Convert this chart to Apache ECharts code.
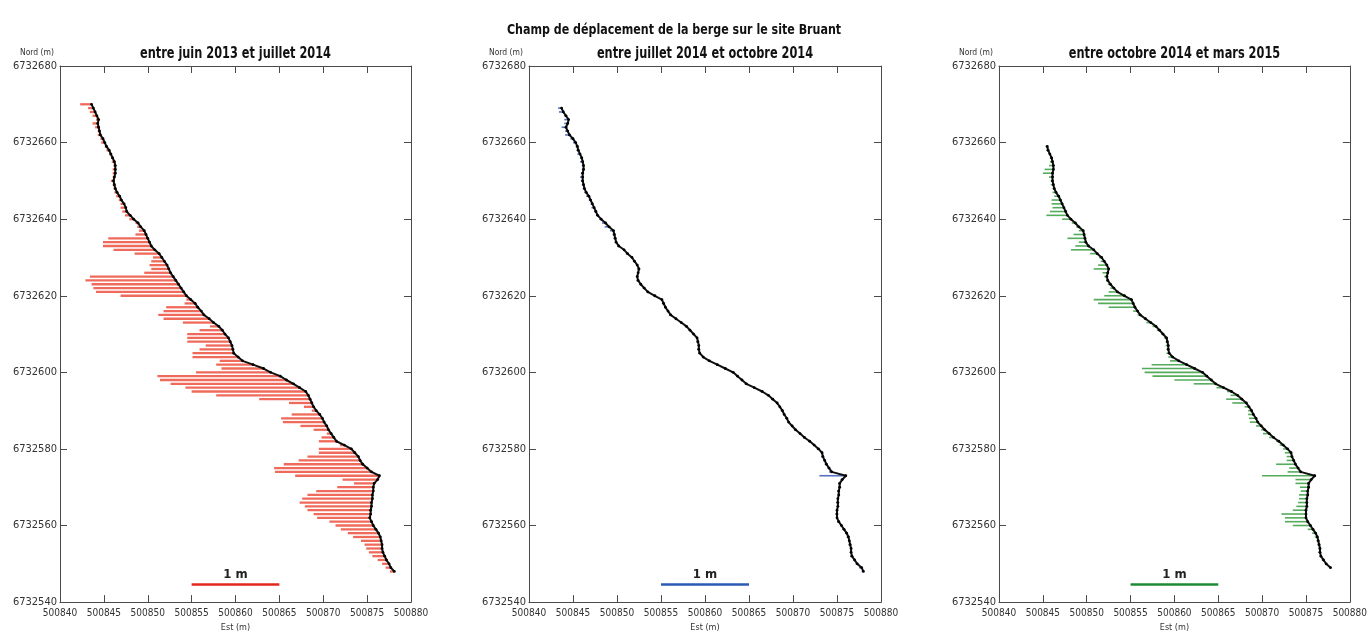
<!DOCTYPE html>
<html>
<head>
<meta charset="utf-8">
<script src="https://cdn.jsdelivr.net/npm/echarts@6/dist/echarts.min.js"></script>
<style>
  html, body { margin: 0; padding: 0; background: #fff; }
  #berge { width: 1370px; height: 637px; }
</style>
</head>
<body>
<div id="berge"></div>
<script>
// profils horizontaux tous les 1 m (nord)
const northing = [
  6732670, 6732669, 6732668, 6732667, 6732666, 6732665, 6732664, 6732663, 6732662, 6732661,
  6732660, 6732659, 6732658, 6732657, 6732656, 6732655, 6732654, 6732653, 6732652, 6732651,
  6732650, 6732649, 6732648, 6732647, 6732646, 6732645, 6732644, 6732643, 6732642, 6732641,
  6732640, 6732639, 6732638, 6732637, 6732636, 6732635, 6732634, 6732633, 6732632, 6732631,
  6732630, 6732629, 6732628, 6732627, 6732626, 6732625, 6732624, 6732623, 6732622, 6732621,
  6732620, 6732619, 6732618, 6732617, 6732616, 6732615, 6732614, 6732613, 6732612, 6732611,
  6732610, 6732609, 6732608, 6732607, 6732606, 6732605, 6732604, 6732603, 6732602, 6732601,
  6732600, 6732599, 6732598, 6732597, 6732596, 6732595, 6732594, 6732593, 6732592, 6732591,
  6732590, 6732589, 6732588, 6732587, 6732586, 6732585, 6732584, 6732583, 6732582, 6732581,
  6732580, 6732579, 6732578, 6732577, 6732576, 6732575, 6732574, 6732573, 6732572, 6732571,
  6732570, 6732569, 6732568, 6732567, 6732566, 6732565, 6732564, 6732563, 6732562, 6732561,
  6732560, 6732559, 6732558, 6732557, 6732556, 6732555, 6732554, 6732553, 6732552, 6732551,
  6732550, 6732549, 6732548
]

// position de la berge (est) en juin 2013
const bankEast1 = [
  500843.6, 500843.8, 500844.0, 500844.2, 500844.4, 500844.3, 500844.4, 500844.5, 500844.6, 500844.9,
  500845.1, 500845.3, 500845.6, 500845.8, 500846.0, 500846.2, 500846.3, 500846.3, 500846.3, 500846.2,
  500846.1, 500846.2, 500846.3, 500846.5, 500846.8, 500847.0, 500847.3, 500847.5, 500847.6, 500848.0,
  500848.4, 500848.9, 500849.2, 500849.6, 500849.8, 500850.0, 500850.2, 500850.4, 500850.8, 500851.3,
  500851.6, 500851.9, 500852.2, 500852.4, 500852.6, 500852.9, 500853.2, 500853.5, 500853.8, 500854.1,
  500854.4, 500854.9, 500855.4, 500855.7, 500856.1, 500856.4, 500857.0, 500857.5, 500858.1, 500858.5,
  500858.8, 500859.2, 500859.4, 500859.6, 500859.7, 500859.8, 500860.3, 500860.8, 500862.0, 500863.2,
  500864.0, 500865.1, 500865.8, 500866.6, 500867.3, 500868.0, 500868.3, 500868.5, 500868.7, 500868.9,
  500869.2, 500869.6, 500869.9, 500870.1, 500870.4, 500870.6, 500870.9, 500871.2, 500871.5, 500872.4,
  500873.2, 500873.6, 500874.0, 500874.2, 500874.5, 500875.0, 500875.5, 500876.4, 500876.2, 500875.8,
  500875.7, 500875.7, 500875.6, 500875.6, 500875.5, 500875.5, 500875.4, 500875.4, 500875.3, 500875.5,
  500875.7, 500876.0, 500876.3, 500876.5, 500876.6, 500876.7, 500876.7, 500876.8, 500877.0, 500877.2,
  500877.5, 500877.7, 500878.1
]

// position de la berge (est) en juillet 2014 / octobre 2014
const bankEast2 = [
  null, 500843.7, 500843.9, 500844.2, 500844.5, 500844.4, 500844.2, 500844.4, 500844.6, 500845.0,
  500845.3, 500845.5, 500845.6, 500845.8, 500846.0, 500846.1, 500846.2, 500846.2, 500846.1, 500846.1,
  500846.1, 500846.2, 500846.3, 500846.5, 500846.8, 500847.0, 500847.2, 500847.4, 500847.6, 500847.8,
  500848.2, 500848.7, 500849.1, 500849.6, 500849.7, 500849.8, 500849.9, 500850.2, 500850.8, 500851.2,
  500851.7, 500852.0, 500852.3, 500852.5, 500852.4, 500852.3, 500852.4, 500852.7, 500853.1, 500853.5,
  500854.3, 500855.1, 500855.3, 500855.5, 500855.8, 500856.1, 500856.7, 500857.3, 500857.9, 500858.3,
  500858.7, 500859.1, 500859.2, 500859.3, 500859.3, 500859.4, 500859.8, 500860.5, 500861.4, 500862.3,
  500863.2, 500863.7, 500864.2, 500864.7, 500865.6, 500866.5, 500867.2, 500867.7, 500868.2, 500868.5,
  500868.8, 500869.0, 500869.3, 500869.5, 500869.9, 500870.3, 500870.8, 500871.3, 500871.9, 500872.4,
  500872.9, 500873.3, 500873.4, 500873.6, 500873.8, 500874.1, 500874.4, 500876.0, 500875.6, 500875.3,
  500875.3, 500875.2, 500875.2, 500875.1, 500875.1, 500875.1, 500875.0, 500875.0, 500875.0, 500875.2,
  500875.5, 500875.8, 500876.1, 500876.3, 500876.4, 500876.5, 500876.6, 500876.6, 500876.7, 500877.0,
  500877.3, 500877.8, 500878.0
]

// recul de la berge (m) vers l'ouest, par periode
const disp1 = [
  0.13, 0.06, 0.06, 0.05, 0.03, 0.06, 0.04, 0.02, 0.03, 0.03,
  0.04, 0.02, 0.03, 0.02, 0.02, 0.03, 0.02, 0.03, 0.03, 0.02,
  0.03, 0.02, 0.02, 0.03, 0.04, 0.03, 0.04, 0.06, 0.05, 0.06,
  0.05, 0.03, 0.04, 0.06, 0.12, 0.45, 0.53, 0.55, 0.47, 0.28,
  0.1, 0.15, 0.2, 0.2, 0.3, 0.95, 1.03, 0.99, 1.0, 1.0,
  0.75, 0.05, 0.12, 0.36, 0.43, 0.52, 0.52, 0.35, 0.1, 0.26,
  0.43, 0.47, 0.49, 0.3, 0.38, 0.47, 0.52, 0.26, 0.42, 0.48,
  0.85, 1.4, 1.44, 1.4, 1.3, 1.3, 1.05, 0.58, 0.26, 0.11,
  0.05, 0.32, 0.47, 0.47, 0.3, 0.17, 0.05, 0.14, 0.2, 0.05,
  0.37, 0.41, 0.58, 0.7, 0.9, 1.06, 1.1, 0.96, 0.4, 0.23,
  0.41, 0.65, 0.74, 0.8, 0.82, 0.76, 0.72, 0.65, 0.6, 0.48,
  0.43, 0.4, 0.35, 0.31, 0.23, 0.2, 0.18, 0.16, 0.14, 0.1,
  0.08, 0.06, 0.05
]
const disp2 = [
  null, 0.04, 0.05, 0.02, 0.05, 0.04, 0.05, 0.03, 0.05, 0.03,
  0.03, 0.02, 0.02, 0.03, 0.02, 0.03, 0.02, 0.02, 0.02, 0.03,
  0.02, 0.02, 0.02, 0.02, 0.03, 0.02, 0.02, 0.03, 0.02, 0.02,
  0.02, 0.04, 0.05, 0.04, 0.02, 0.02, 0.01, 0.02, 0.01, 0.02,
  0.01, 0.02, 0.01, 0.02, 0.01, 0.01, 0.02, 0.01, 0.02, 0.01,
  0.02, 0.01, 0.02, 0.01, 0.01, 0.02, 0.01, 0.01, 0.02, 0.01,
  0.01, 0.01, 0.02, 0.01, 0.02, 0.01, 0.01, 0.02, 0.01, 0.01,
  0.02, 0.01, 0.01, 0.02, 0.01, 0.02, 0.01, 0.02, 0.01, 0.01,
  0.02, 0.01, 0.02, 0.01, 0.01, 0.02, 0.01, 0.01, 0.02, 0.01,
  0.02, 0.01, 0.02, 0.01, 0.02, 0.02, 0.03, 0.3, 0.02, 0.01,
  0.01, 0.02, 0.01, 0.01, 0.02, 0.01, 0.01, 0.02, 0.01, 0.02,
  0.01, 0.02, 0.01, 0.02, 0.01, 0.02, 0.01, 0.01, 0.02, 0.01,
  0.02, 0.03, 0.02
]
const disp3 = [
  null, null, null, null, null, null, null, null, null, null,
  null, 0.02, 0.02, 0.01, 0.02, 0.03, 0.05, 0.1, 0.11, 0.04,
  0.02, 0.03, 0.02, 0.04, 0.05, 0.1, 0.12, 0.13, 0.18, 0.24,
  0.1, 0.04, 0.03, 0.05, 0.12, 0.2, 0.08, 0.15, 0.26, 0.08,
  0.03, 0.04, 0.1, 0.17, 0.06, 0.03, 0.02, 0.03, 0.04, 0.1,
  0.23, 0.43, 0.4, 0.3, 0.05, 0.03, 0.02, 0.05, 0.04, 0.03,
  0.02, 0.03, 0.02, 0.03, 0.02, 0.03, 0.05, 0.1, 0.4, 0.6,
  0.66, 0.62, 0.42, 0.25, 0.08, 0.05, 0.08, 0.18, 0.16, 0.05,
  0.04, 0.06, 0.08, 0.09, 0.06, 0.04, 0.07, 0.05, 0.03, 0.04,
  0.05, 0.07, 0.06, 0.08, 0.22, 0.1, 0.15, 0.6, 0.18, 0.15,
  0.1, 0.08, 0.1, 0.09, 0.1, 0.12, 0.15, 0.28, 0.24, 0.26,
  0.2, 0.06, 0.04, 0.03, 0.02, 0.02, 0.02, 0.02, 0.01, 0.02,
  0.01, 0.01, null
]

const mainTitle = 'Champ de déplacement de la berge sur le site Bruant'
const panelTitles = ['entre juin 2013 et juillet 2014', 'entre juillet 2014 et octobre 2014', 'entre octobre 2014 et mars 2015']
const vecColors = ['#f06a5b', '#5670c4', '#55ab5c']
const barColors = ['#e5281f', '#2a5ab5', '#1f8a36']
const scaleBarEast = [500855, 500865]
const scaleBarNorth = 6732544.6
const SCALE = 10 // 1 m de deplacement = 10 m sur l'axe

const FONT = "'DejaVu Sans Condensed', 'Liberation Sans Narrow', sans-serif"
const gridLeft = [60, 529, 999]
const gridWidth = [351, 352, 351]

const panels = [
  { bank: bankEast1, disp: disp1 },
  { bank: bankEast2, disp: disp2 },
  { bank: bankEast2, disp: disp3 }
]

function rowsOf(p) {
  let out = []
  northing.forEach((n, i) => {
    if (p.bank[i] != null && p.disp[i] != null) out.push([p.bank[i], n, p.disp[i]])
  })
  return out
}

let chart = echarts.init(document.getElementById('berge'))

let grids = [], xAxes = [], yAxes = [], series = [], graphics = []
const axisLine = { show: true, lineStyle: { color: '#4a4a4a', width: 1 } }
const axisTick = { show: true, inside: true, length: 7, lineStyle: { color: '#4a4a4a' } }

panels.forEach((p, k) => {
  grids.push({ left: gridLeft[k], top: 66, width: gridWidth[k], height: 540 })
  // bas + haut
  xAxes.push({
    gridIndex: k, type: 'value', min: 500840, max: 500880, interval: 5, position: 'bottom',
    axisLine: axisLine, axisTick: axisTick, splitLine: { show: false },
    axisLabel: { formatter: v => String(v), fontFamily: FONT, fontSize: 10, color: '#333', margin: 6 },
    name: 'Est (m)', nameLocation: 'middle', nameGap: 20,
    nameTextStyle: { fontFamily: FONT, fontSize: 9, color: '#333' }
  })
  xAxes.push({
    gridIndex: k, type: 'value', min: 500840, max: 500880, interval: 5, position: 'top',
    axisLine: axisLine, axisTick: axisTick, splitLine: { show: false }, axisLabel: { show: false }
  })
  // gauche + droite
  yAxes.push({
    gridIndex: k, type: 'value', min: 6732540, max: 6732680, interval: 20, position: 'left',
    axisLine: axisLine, axisTick: axisTick, splitLine: { show: false },
    axisLabel: { formatter: v => String(v), fontFamily: FONT, fontSize: 11, color: '#333', margin: 3 },
    name: 'Nord (m)', nameLocation: 'end', nameGap: 9,
    nameTextStyle: { fontFamily: FONT, fontSize: 8.5, color: '#333', align: 'right', padding: [0, 6, 0, 0] }
  })
  yAxes.push({
    gridIndex: k, type: 'value', min: 6732540, max: 6732680, interval: 20, position: 'right',
    axisLine: axisLine, axisTick: axisTick, splitLine: { show: false }, axisLabel: { show: false }
  })

  let rows = rowsOf(p)
  let col = vecColors[k]
  series.push({
    type: 'custom',
    xAxisIndex: 2 * k,
    yAxisIndex: 2 * k,
    data: rows,
    encode: { x: 0, y: 1 },
    silent: true,
    z: 2,
    renderItem: function (params, api) {
      let a = api.coord([api.value(0), api.value(1)])
      let b = api.coord([api.value(0) - api.value(2) * SCALE, api.value(1)])
      return {
        type: 'line',
        shape: { x1: a[0], y1: a[1], x2: b[0], y2: b[1] },
        style: { stroke: col, lineWidth: k === 0 ? 2.3 : 1.6 }
      }
    }
  })
  // berge
  series.push({
    type: 'line',
    xAxisIndex: 2 * k,
    yAxisIndex: 2 * k,
    data: rows.map(r => [r[0], r[1]]),
    symbol: 'circle',
    symbolSize: 2.8,
    showAllSymbol: true,
    itemStyle: { color: '#000' },
    lineStyle: { color: '#111', width: 2 },
    silent: true,
    z: 3
  })
  // echelle 1 m
  let barCol = barColors[k]
  series.push({
    type: 'custom',
    xAxisIndex: 2 * k,
    yAxisIndex: 2 * k,
    data: [[scaleBarEast[0], scaleBarEast[1], scaleBarNorth]],
    encode: { x: [0, 1], y: 2 },
    silent: true,
    z: 4,
    renderItem: function (params, api) {
      let a = api.coord([api.value(0), api.value(2)])
      let b = api.coord([api.value(1), api.value(2)])
      return {
        type: 'group',
        children: [
          { type: 'line', shape: { x1: a[0], y1: a[1], x2: b[0], y2: b[1] }, style: { stroke: barCol, lineWidth: 2.6 } },
          {
            type: 'text',
            style: {
              text: '1 m', x: (a[0] + b[0]) / 2, y: a[1] - 3, align: 'center', verticalAlign: 'bottom',
              font: 'bold 13px ' + FONT, fill: '#222'
            }
          }
        ]
      }
    }
  })

  graphics.push({
    type: 'text',
    x: gridLeft[k] + gridWidth[k] / 2,
    y: 47,
    scaleX: 0.84,
    style: { text: panelTitles[k], align: 'center', verticalAlign: 'top', font: 'bold 15px ' + FONT, fill: '#111' }
  })
})

graphics.push({
  type: 'text',
  x: 674,
  y: 23,
  scaleX: 0.88,
  style: { text: mainTitle, align: 'center', verticalAlign: 'top', font: 'bold 14px ' + FONT, fill: '#111' }
})

chart.setOption({
  animation: false,
  grid: grids,
  xAxis: xAxes,
  yAxis: yAxes,
  series: series,
  graphic: graphics
})
</script>
</body>
</html>
